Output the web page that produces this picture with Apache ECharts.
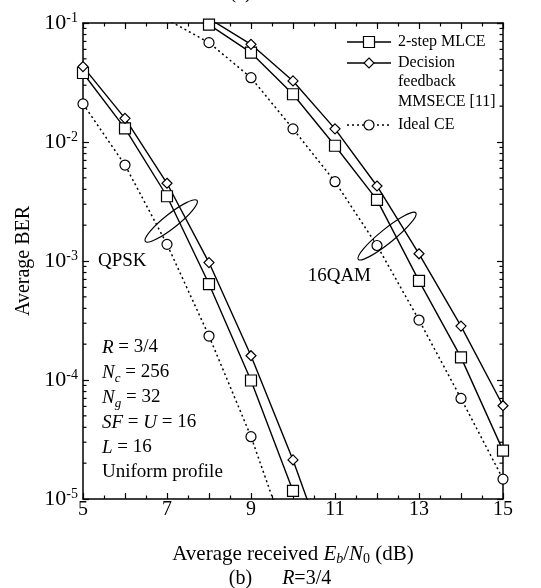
<!DOCTYPE html>
<html>
<head>
<meta charset="utf-8">
<script src="https://cdn.jsdelivr.net/npm/echarts@6/dist/echarts.min.js"></script>
<style>
html, body { margin: 0; padding: 0; background: #fff; }
#chart { width: 541px; height: 588px; }
</style>
</head>
<body>
<div id="chart"></div>
<script>
// Eb/N0 (dB)
const ebn0 = [5, 6, 7, 8, 9, 10, 11, 12, 13, 14, 15];

// QPSK
const qpskMlce  = [0.038, 0.013, 0.0035, 6.4e-4, 9.9e-5, 1.17e-5, null, null, null, null, null];
const qpskDf    = [0.043, 0.0158, 0.0045, 9.7e-4, 1.6e-4, 2.13e-5, 2.2e-6, null, null, null, null];
const qpskIdeal = [0.0209, 0.0064, 0.00138, 2.34e-4, 3.34e-5, 3.3e-6, null, null, null, null, null];

// 16QAM
const qamMlce  = [null, null, null, 0.097, 0.0563, 0.0252, 0.0093, 0.00326, 6.8e-4, 1.55e-4, 2.55e-5];
const qamDf    = [null, null, null, 0.109, 0.0662, 0.0326, 0.0129, 0.00427, 1.15e-3, 2.84e-4, 6.08e-5];
const qamIdeal = [null, null, 0.107, 0.0684, 0.0347, 0.0129, 0.00464, 1.35e-3, 3.19e-4, 7.0e-5, 1.47e-5];

// minor ticks of the log axis (2..9 in each decade)
const yMinorTicks = [];
[1e-5, 1e-4, 1e-3, 1e-2].forEach(d => {
    for (let k = 2; k <= 9; k++) yMinorTicks.push(+(k * d).toPrecision(3));
});

const FONT = "'Liberation Serif', 'Times New Roman', serif";

function pairs(ys) {
    return ebn0.map((x, i) => [x, ys[i]]).filter(p => p[1] != null);
}

const chart = echarts.init(document.getElementById('chart'));

const axisLine = { show: true, lineStyle: { color: '#000', width: 1.5 } };

function xAx(pos, labels) {
    return {
        type: 'value', position: pos, min: 5, max: 15, interval: 1,
        axisLine: axisLine,
        axisTick: { inside: true, length: 6, lineStyle: { color: '#000', width: 1.2 } },
        minorTick: { show: true, splitNumber: 2, length: 3.5, lineStyle: { color: '#000', width: 1.2 } },
        splitLine: { show: false },
        axisLabel: {
            show: labels, margin: 1, color: '#000', fontFamily: FONT, fontSize: 20,
            formatter: v => (v % 2 === 1 ? String(v) : '')
        }
    };
}

function yAx(pos, labels) {
    return {
        type: 'log', logBase: 10, position: pos, min: 1e-5, max: 0.1,
        axisLine: axisLine,
        axisTick: { inside: true, length: 6, lineStyle: { color: '#000', width: 1.2 } },
        splitLine: { show: false },
        axisLabel: {
            show: labels, margin: 5, color: '#000', fontFamily: FONT,
            formatter: v => '{b|10}{s|' + Math.round(Math.log10(v)) + '}',
            rich: {
                b: { fontSize: 22, fontFamily: FONT, color: '#000', lineHeight: 24 },
                s: { fontSize: 14, fontFamily: FONT, color: '#000', lineHeight: 14, verticalAlign: 'top' }
            }
        }
    };
}

const sym = { color: '#fff', borderColor: '#000', borderWidth: 1.2 };
const solid = { color: '#000', width: 1.4 };
const dotted = { color: '#000', width: 1.5, type: [2, 3] };

function line(name, ys, symbol, size, style) {
    return {
        name: name, type: 'line', data: pairs(ys), symbol: symbol, symbolSize: size,
        showAllSymbol: true, clip: true, lineStyle: style, itemStyle: sym,
        emphasis: { disabled: true }, z: 3
    };
}

const option = {
    animation: false,
    backgroundColor: '#fff',
    grid: { left: 83, right: 38, top: 23, bottom: 89 },
    xAxis: [
        Object.assign(xAx('bottom', true), {
            name: 'Average received {i|E}{sbi|b}/{i|N}{sb|0} (dB)',
            nameLocation: 'middle', nameGap: 43,
            nameTextStyle: {
                color: '#000', fontFamily: FONT, fontSize: 21,
                rich: {
                    i: { fontStyle: 'italic', fontSize: 21, fontFamily: FONT, color: '#000', lineHeight: 24 },
                    sb: { fontSize: 14, fontFamily: FONT, color: '#000', lineHeight: 12, verticalAlign: 'bottom' },
                    sbi: { fontSize: 14, fontStyle: 'italic', fontFamily: FONT, color: '#000', lineHeight: 12, verticalAlign: 'bottom' }
                }
            }
        }),
        xAx('top', false)
    ],
    yAxis: [
        Object.assign(yAx('left', true), {
            name: 'Average BER', nameLocation: 'middle', nameGap: 49,
            nameTextStyle: { color: '#000', fontFamily: FONT, fontSize: 20 }
        }),
        yAx('right', false)
    ],
    series: [
        line('2-step MLCE QPSK', qpskMlce, 'rect', 11, solid),
        line('DF QPSK', qpskDf, 'diamond', 10, solid),
        line('Ideal QPSK', qpskIdeal, 'circle', 10, dotted),
        line('2-step MLCE 16QAM', qamMlce, 'rect', 11, solid),
        line('DF 16QAM', qamDf, 'diamond', 10, solid),
        line('Ideal 16QAM', qamIdeal, 'circle', 10, dotted),
        {
            type: 'custom', silent: true, clip: false, z: 2,
            data: yMinorTicks.map(v => [5, v]),
            renderItem: (params, api) => {
                const v = api.value(1);
                const l = api.coord([5, v]);
                const r = api.coord([15, v]);
                const st = { stroke: '#000', lineWidth: 1.2 };
                return {
                    type: 'group', children: [
                        { type: 'line', shape: { x1: l[0], y1: l[1], x2: l[0] + 3.5, y2: l[1] }, style: st },
                        { type: 'line', shape: { x1: r[0], y1: r[1], x2: r[0] - 3.5, y2: r[1] }, style: st }
                    ]
                };
            }
        }
    ]
};
chart.setOption(option);

// annotations
const txt = { fill: '#000', fontFamily: FONT };
const it = { fontStyle: 'italic', fontSize: 19, fontFamily: FONT, fill: '#000', lineHeight: 25 };
const rm = { fontSize: 19, fontFamily: FONT, fill: '#000', lineHeight: 25 };
const sub = { fontSize: 13, fontStyle: 'italic', fontFamily: FONT, fill: '#000', lineHeight: 9, verticalAlign: 'bottom' };

const cQ = chart.convertToPixel({ gridIndex: 0 }, [7.10, 2.17e-3]);
const cM = chart.convertToPixel({ gridIndex: 0 }, [12.24, 1.62e-3]);
const ell = { fill: 'none', stroke: '#000', lineWidth: 1.2 };

const legX1 = 347, legX2 = 391, legM = 369, legT = 398;
const legLine = (y, dash) => ({
    type: 'line', shape: { x1: legX1, y1: y, x2: legX2, y2: y },
    style: { stroke: '#000', lineWidth: 1.5, lineDash: dash || null }
});

chart.setOption({
    graphic: [
        { type: 'ellipse', x: cQ[0], y: cQ[1], rotation: 0.67, shape: { cx: 0, cy: 0, rx: 33, ry: 7 }, style: ell, z: 10 },
        { type: 'ellipse', x: cM[0], y: cM[1], rotation: 0.68, shape: { cx: 0, cy: 0, rx: 37, ry: 7 }, style: ell, z: 10 },
        { type: 'text', x: 98, y: 261, style: Object.assign({ text: 'QPSK', fontSize: 19, verticalAlign: 'middle' }, txt), z: 10 },
        { type: 'text', x: 371, y: 276, style: Object.assign({ text: '16QAM', fontSize: 19, align: 'right', verticalAlign: 'middle' }, txt), z: 10 },
        {
            type: 'text', x: 102, y: 335, z: 10,
            style: {
                text: '{i|R}{r| = 3/4}\n{i|N}{s|c}{r| = 256}\n{i|N}{s|g}{r| = 32}\n{i|SF}{r| = }{i|U}{r| = 16}\n{i|L}{r| = 16}\n{r|Uniform profile}',
                rich: { i: it, r: rm, s: sub }
            }
        },
        // legend
        legLine(42), { type: 'rect', shape: { x: legM - 5.5, y: 42 - 5.5, width: 11, height: 11 }, style: { fill: '#fff', stroke: '#000', lineWidth: 1.2 }, z: 11 },
        { type: 'text', x: legT, y: 42, style: Object.assign({ text: '2-step MLCE', fontSize: 16, verticalAlign: 'middle' }, txt) },
        legLine(63), { type: 'polygon', shape: { points: [[legM, 58], [legM + 5, 63], [legM, 68], [legM - 5, 63]] }, style: { fill: '#fff', stroke: '#000', lineWidth: 1.2 }, z: 11 },
        { type: 'text', x: legT, y: 53, style: Object.assign({ text: 'Decision\nfeedback\nMMSECE [11]', fontSize: 16, lineHeight: 19.5, verticalAlign: 'top' }, txt) },
        legLine(125, [2, 3]), { type: 'circle', shape: { cx: legM, cy: 125, r: 5 }, style: { fill: '#fff', stroke: '#000', lineWidth: 1.2 }, z: 11 },
        { type: 'text', x: legT, y: 125, style: Object.assign({ text: 'Ideal CE', fontSize: 16, verticalAlign: 'middle' }, txt) },
        // captions
        {
            type: 'text', x: 280, y: 579, z: 10,
            style: { text: '{r|(b)}{r|      }{i|R}{r|=3/4}', align: 'center', verticalAlign: 'middle', rich: { i: Object.assign({}, it, { fontSize: 20 }), r: Object.assign({}, rm, { fontSize: 20 }) } }
        },
        {
            type: 'text', x: 280, y: 4, z: 10,
            style: { text: '{r|(a)}{r|      }{i|R}{r|=1/2}', align: 'center', verticalAlign: 'bottom', rich: { i: Object.assign({}, it, { fontSize: 20, lineHeight: 22 }), r: Object.assign({}, rm, { fontSize: 20, lineHeight: 22 }) } }
        }
    ]
});
</script>
</body>
</html>
